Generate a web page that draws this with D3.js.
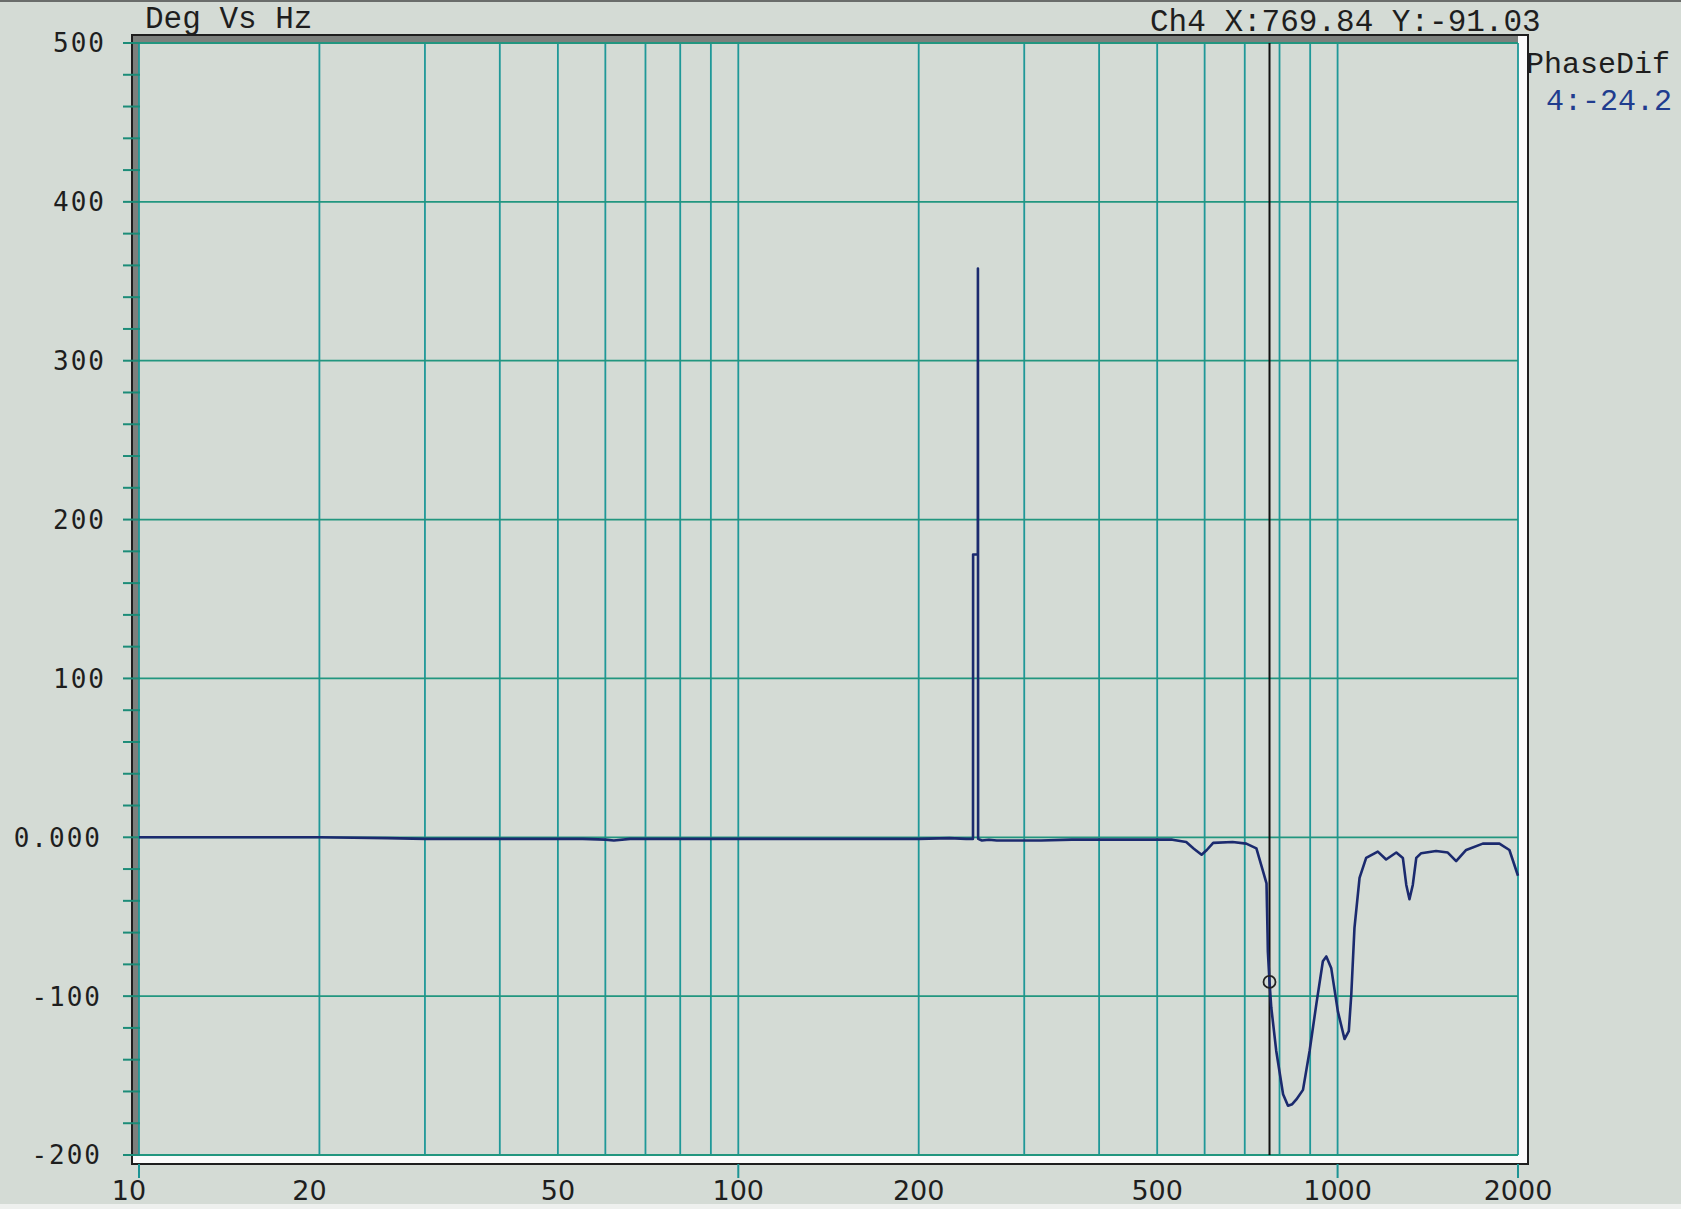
<!DOCTYPE html>
<html>
<head>
<meta charset="utf-8">
<script src="https://cdn.jsdelivr.net/npm/d3@7"></script>
<style>
  html, body { margin: 0; padding: 0; background: #d4dbd5; }
  svg { display: block; }
</style>
</head>
<body>
<svg id="chart" width="1681" height="1209"></svg>
<script>
// Phase difference trace, channel 4 (Hz, degrees)
const freqHz = [
  10, 14, 20, 26, 30, 34, 40, 48, 55, 60, 62, 66, 75, 90, 110, 140, 170, 200, 225, 240, 246.3,
  246.4, 246.5, 251, 251.1, 251.3,
  255, 262, 270, 290, 320, 360, 400, 440, 486,
  530, 559, 575, 593, 605, 620, 668, 704, 732, 751, 761, 762.5, 764, 765, 769.84, 775, 790,
  811, 826.5, 840, 853.5, 875.5, 898, 921.6, 945, 957.6, 976, 1001, 1027, 1044, 1054, 1067,
  1088, 1116, 1167, 1205, 1253, 1285, 1302, 1318, 1335, 1353, 1379, 1460, 1527, 1577, 1639,
  1747, 1862, 1935, 2000
];
const phaseDeg = [
  0, 0, 0, -0.5, -1, -1, -1, -1, -1, -1.5, -2, -1, -1, -1, -1, -1, -1, -1, -0.5, -1, -1,
  0, 178, 178, 358, -1,
  -2, -1.5, -2, -2, -2, -1.5, -1.5, -1.5, -1.5,
  -1.5, -3, -7, -11, -8, -3.5, -3, -4, -7, -21.5, -29, -44.6, -60, -72, -91.03, -107, -134.5,
  -161.8, -169, -168, -165, -159, -134.5, -105, -78, -75, -82.5, -109.6, -127, -122, -99, -57,
  -25.6, -13, -9, -14, -9.6, -13, -30, -39, -30, -13, -10, -8.6, -9.6, -15, -8,
  -4, -4, -8, -24.2
];

// Cursor readout
const cursorFreq = 769.84;
const cursorPhase = -91.03;
const channelName = "Ch4";
const legendTitle = "PhaseDif";
const legendValue = "4:-24.2";
const chartTitle = "Deg Vs Hz";

// Axes
const yTickValues = [500, 400, 300, 200, 100, 0, -100, -200];
const yTickLabels = ["500", "400", "300", "200", "100", "0.000", "-100", "-200"];
const yMinorStep = 20;
const xTickValues = [10, 20, 50, 100, 200, 500, 1000, 2000];
const xTickLabels = ["10", "20", "50", "100", "200", "500", "1000", "2000"];
const xTickMarks = [10, 100, 1000, 2000];
const xGridValues = [10, 20, 30, 40, 50, 60, 70, 80, 90, 100, 200, 300, 400, 500, 600, 700, 800, 900, 1000, 2000];

const svg = d3.select("#chart");
const W = 1681, H = 1209;
const plot = { left: 139, right: 1518, top: 43, bottom: 1155 };

const x = d3.scaleLog().domain([10, 2000]).range([plot.left, plot.right]);
const y = d3.scaleLinear().domain([-200, 500]).range([plot.bottom, plot.top]);

const BG = "#d4dbd5";
const GRID = "#1f9898";
const INK = "#1e1e1e";

svg.append("rect").attr("width", W).attr("height", H).attr("fill", BG);
// page edges
svg.append("line").attr("x1", 0).attr("x2", W).attr("y1", 1).attr("y2", 1)
  .attr("stroke", "#6a6d6b").attr("stroke-width", 2);
svg.append("rect").attr("x", 0).attr("y", 1204).attr("width", W).attr("height", 5).attr("fill", "#eef0ee");

// frame: dark outline, grey bevel top/left, white bevel bottom/right
const fr = { x0: 132, y0: 35, x1: 1528, y1: 1164 };
svg.append("rect").attr("x", fr.x0).attr("y", fr.y0)
  .attr("width", fr.x1 - fr.x0).attr("height", fr.y1 - fr.y0)
  .attr("fill", "#fbfbfb").attr("stroke", INK).attr("stroke-width", 2);
svg.append("rect").attr("x", fr.x0 + 1).attr("y", fr.y0 + 1)
  .attr("width", plot.right - fr.x0 - 1).attr("height", plot.bottom - fr.y0 - 1)
  .attr("fill", "#7c807d");
svg.append("rect").attr("x", plot.left).attr("y", plot.top)
  .attr("width", plot.right - plot.left).attr("height", plot.bottom - plot.top)
  .attr("fill", BG);

// grid
const g = svg.append("g");
g.selectAll("line.v").data(xGridValues).join("line")
  .attr("class", "v")
  .attr("x1", d => x(d)).attr("x2", d => x(d))
  .attr("y1", plot.top).attr("y2", plot.bottom)
  .attr("stroke", GRID).attr("stroke-width", 1.8);
g.selectAll("line.h").data(yTickValues).join("line")
  .attr("class", "h")
  .attr("x1", plot.left).attr("x2", plot.right)
  .attr("y1", d => y(d)).attr("y2", d => y(d))
  .attr("stroke", "#22967f").attr("stroke-width", 1.8);

// y ticks (every 20 degrees)
const yMinor = d3.range(-200, 500 + 1, yMinorStep);
svg.append("g").selectAll("line").data(yMinor).join("line")
  .attr("x1", 123).attr("x2", fr.x0 + 8)
  .attr("y1", d => y(d)).attr("y2", d => y(d))
  .attr("stroke", "#1c8c78").attr("stroke-width", 2);

// x ticks below frame
svg.append("g").selectAll("line").data(xTickMarks).join("line")
  .attr("x1", d => x(d)).attr("x2", d => x(d))
  .attr("y1", fr.y1).attr("y2", fr.y1 + 14)
  .attr("stroke", "#1c9494").attr("stroke-width", 2);

// tick labels
svg.append("g").selectAll("text").data(yTickValues).join("text")
  .attr("x", d => (d >= 100 ? 106 : 102)).attr("y", d => y(d)).attr("dy", "0.36em")
  .attr("text-anchor", "end")
  .attr("font-family", "DejaVu Sans Mono").attr("font-size", 26).attr("letter-spacing", 2)
  .attr("fill", "#1e1e1e")
  .text((d, i) => yTickLabels[i]);

svg.append("g").selectAll("text").data(xTickValues).join("text")
  .attr("x", d => x(d) - (d < 50 ? 10 : 0)).attr("y", 1200)
  .attr("text-anchor", "middle")
  .attr("font-family", "DejaVu Sans").attr("font-size", 27)
  .attr("fill", "#1e1e1e")
  .text((d, i) => xTickLabels[i]);

// cursor line
svg.append("line")
  .attr("x1", x(cursorFreq)).attr("x2", x(cursorFreq))
  .attr("y1", plot.top).attr("y2", plot.bottom)
  .attr("stroke", "#111").attr("stroke-width", 2);

// trace
const line = d3.line().x((d, i) => x(freqHz[i])).y(d => y(d)).curve(d3.curveLinear);
svg.append("path").datum(phaseDeg)
  .attr("d", line)
  .attr("fill", "none").attr("stroke", "#1b2a6e").attr("stroke-width", 2.6)
  .attr("stroke-linejoin", "round");

// cursor marker
svg.append("circle")
  .attr("cx", x(cursorFreq)).attr("cy", y(cursorPhase)).attr("r", 6)
  .attr("fill", "none").attr("stroke", "#222").attr("stroke-width", 1.8);

// header texts
const mono = "Liberation Mono";
svg.append("text").attr("x", 145).attr("y", 28)
  .attr("font-family", mono).attr("font-size", 31).attr("fill", "#1e1e1e")
  .text(chartTitle);
svg.append("text").attr("x", 1150).attr("y", 31)
  .attr("font-family", mono).attr("font-size", 31).attr("fill", "#1e1e1e")
  .text(`${channelName} X:${cursorFreq.toFixed(2)} Y:${cursorPhase.toFixed(2)}`);
svg.append("text").attr("x", 1526).attr("y", 73)
  .attr("font-family", mono).attr("font-size", 30).attr("fill", "#1e1e1e")
  .text(legendTitle);
svg.append("text").attr("x", 1546).attr("y", 110)
  .attr("font-family", mono).attr("font-size", 30).attr("fill", "#203c8e")
  .text(legendValue);
</script>
</body>
</html>
